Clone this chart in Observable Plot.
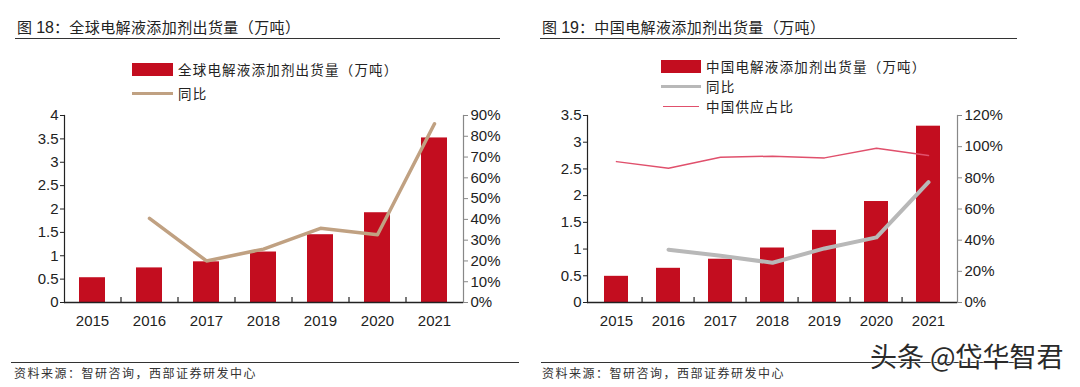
<!DOCTYPE html>
<html><head><meta charset="utf-8">
<script src="https://cdn.jsdelivr.net/npm/d3@7"></script>
<script src="https://cdn.jsdelivr.net/npm/@observablehq/plot@0.6"></script>
<style>
html,body{margin:0;padding:0;background:#fff;}
#root{position:relative;width:1080px;height:387px;overflow:hidden;background:#fff;font-family:"Noto Sans CJK SC","Liberation Sans",sans-serif;color:#222;}
.abs{position:absolute;}
.title{font-size:15px;line-height:18px;white-space:nowrap;color:#222;letter-spacing:0.4px;}
.title .num{font-family:"Liberation Sans",Arial,sans-serif;font-size:16px;letter-spacing:0;}
.hr{height:1.3px;background:#333;}
.leg{font-size:13.5px;line-height:16px;white-space:nowrap;color:#222;letter-spacing:1.2px;}
.src{font-size:12px;line-height:14px;white-space:nowrap;color:#333;letter-spacing:1.5px;}
</style></head>
<body><div id="root"></div>
<script>
// ---- data ----
const years = ["2015","2016","2017","2018","2019","2020","2021"];
const globalShip = [0.53, 0.74, 0.87, 1.08, 1.45, 1.92, 3.52];
const globalYoY  = [null, 0.405, 0.20, 0.257, 0.357, 0.326, 0.86];
const chinaShip  = [0.49, 0.64, 0.81, 1.02, 1.35, 1.89, 3.30];
const chinaYoY   = [null, 0.339, 0.30, 0.255, 0.347, 0.418, 0.772];
const chinaShare = [0.904, 0.862, 0.932, 0.939, 0.928, 0.99, 0.943];
const leftTicks  = [0, 0.5, 1, 1.5, 2, 2.5, 3, 3.5, 4];
const leftPct    = [0, 0.1, 0.2, 0.3, 0.4, 0.5, 0.6, 0.7, 0.8, 0.9];
const rightTicks = [0, 0.5, 1, 1.5, 2, 2.5, 3, 3.5];
const rightPct   = [0, 0.2, 0.4, 0.6, 0.8, 1.0, 1.2];

const RED = "#c30d1f";
const root = document.getElementById("root");

function el(tag, cls, style, html){
  const e = document.createElement(tag);
  if (cls) e.className = cls;
  Object.assign(e.style, style);
  if (html != null) e.innerHTML = html;
  root.appendChild(e);
  return e;
}

function panel(o){
  const W = 520, H = 240, MT = 15, MB = 38;
  const n = years.length;
  const step = (W - o.ml - o.mr) / n;
  const plotH = H - MT - MB;
  const yMax = o.yTicks[o.yTicks.length - 1];
  const pMax = o.pTicks[o.pTicks.length - 1];
  const k = yMax / pMax;
  const rows = years.map((y, i) => ({year: y, ship: o.ship[i], yoy: o.yoy[i], share: o.share ? o.share[i] : null}));
  const marks = [
    Plot.barY(rows, {x: "year", y: "ship", fill: RED}),
    Plot.frame({anchor: "left", stroke: "#222", strokeWidth: 1.2}),
    Plot.frame({anchor: "right", stroke: "#888", strokeWidth: 1.2}),
    Plot.ruleY([0], {stroke: "#222", strokeWidth: 1.5}),
    Plot.ruleX(years.slice(1), {dx: -step / 2, insetTop: plotH - 5, stroke: "#222", strokeWidth: 1.2}),
    Plot.axisX({tickSize: 0, tickPadding: 13, label: null, fontSize: 15}),
    Plot.axisY(o.yTicks, {anchor: "left", tickSize: 4, tickPadding: 2, label: null, fontSize: 15, tickFormat: d => String(d), stroke: "#222"}),
    Plot.axisY(o.pTicks.map(p => p * k), {anchor: "right", tickSize: 4, tickPadding: 3, label: null, fontSize: 15, tickFormat: d => Math.round(d / k * 100) + "%", stroke: "#888"}),
  ];
  if (o.share) {
    marks.push(Plot.lineY(rows, {x: "year", y: d => d.share * k, stroke: "#e0506c", strokeWidth: 1.5}));
  }
  marks.push(Plot.lineY(rows.filter(d => d.yoy != null), {x: "year", y: d => d.yoy * k, stroke: o.lineColor, strokeWidth: o.lineWidth}));
  const svg = Plot.plot({
    width: W, height: H, marginTop: MT, marginBottom: MB, marginLeft: o.ml, marginRight: o.mr,
    x: {type: "band", domain: years, paddingInner: 0.54, paddingOuter: 0.27},
    y: {domain: [0, yMax]},
    style: {fontFamily: "'Liberation Sans', Arial, sans-serif", fontSize: "15px", color: "#222", background: "transparent", overflow: "visible"},
    marks
  });
  svg.style.position = "absolute";
  svg.style.left = o.left + "px";
  svg.style.top = "100px";
  root.appendChild(svg);
}

// ---- titles ----
el("div", "abs title", {left: "17px", top: "18px"}, '图 <span class="num">18</span>：全球电解液添加剂出货量（万吨）');
el("div", "abs hr", {left: "15px", top: "38px", width: "485px"});
el("div", "abs title", {left: "542px", top: "18px"}, '图 <span class="num">19</span>：中国电解液添加剂出货量（万吨）');
el("div", "abs hr", {left: "540px", top: "38px", width: "477px"});

// ---- legends ----
el("div", "abs", {left: "132px", top: "63px", width: "41px", height: "13px", background: RED});
el("div", "abs leg", {left: "178px", top: "61px"}, "全球电解液添加剂出货量（万吨）");
el("div", "abs", {left: "132px", top: "92px", width: "41px", height: "3px", background: "#c0a182"});
el("div", "abs leg", {left: "178px", top: "85px"}, "同比");

el("div", "abs", {left: "661px", top: "60px", width: "40px", height: "13px", background: RED});
el("div", "abs leg", {left: "706px", top: "58px"}, "中国电解液添加剂出货量（万吨）");
el("div", "abs", {left: "661px", top: "85px", width: "40px", height: "3px", background: "#b8b8b8"});
el("div", "abs leg", {left: "706px", top: "78px"}, "同比");
el("div", "abs", {left: "663px", top: "106px", width: "36px", height: "1.2px", background: "#e0506c"});
el("div", "abs leg", {left: "706px", top: "98px"}, "中国供应占比");

// ---- panels ----
panel({left: 0, ml: 64, mr: 57, ship: globalShip, yoy: globalYoY, share: null, yTicks: leftTicks, pTicks: leftPct, lineColor: "#c0a182", lineWidth: 3.5});
panel({left: 530, ml: 57, mr: 93, ship: chinaShip, yoy: chinaYoY, share: chinaShare, yTicks: rightTicks, pTicks: rightPct, lineColor: "#b8b8b8", lineWidth: 4});

// ---- footers ----
el("div", "abs hr", {left: "11px", top: "362px", width: "508px", height: "1px"});
el("div", "abs src", {left: "14px", top: "366px"}, "资料来源：智研咨询，西部证券研发中心");
el("div", "abs hr", {left: "541px", top: "362px", width: "476px", height: "1px"});
el("div", "abs src", {left: "542px", top: "366px"}, "资料来源：智研咨询，西部证券研发中心");
el("div", "abs", {left: "870px", top: "340px", fontSize: "27px", lineHeight: "32px", whiteSpace: "nowrap", color: "#2a2a2a", fontFamily: "'Noto Sans CJK SC', sans-serif", textShadow: "0 0 2px #fff, 0 0 2px #fff"}, "头条 @岱华智君");
</script></body></html>
